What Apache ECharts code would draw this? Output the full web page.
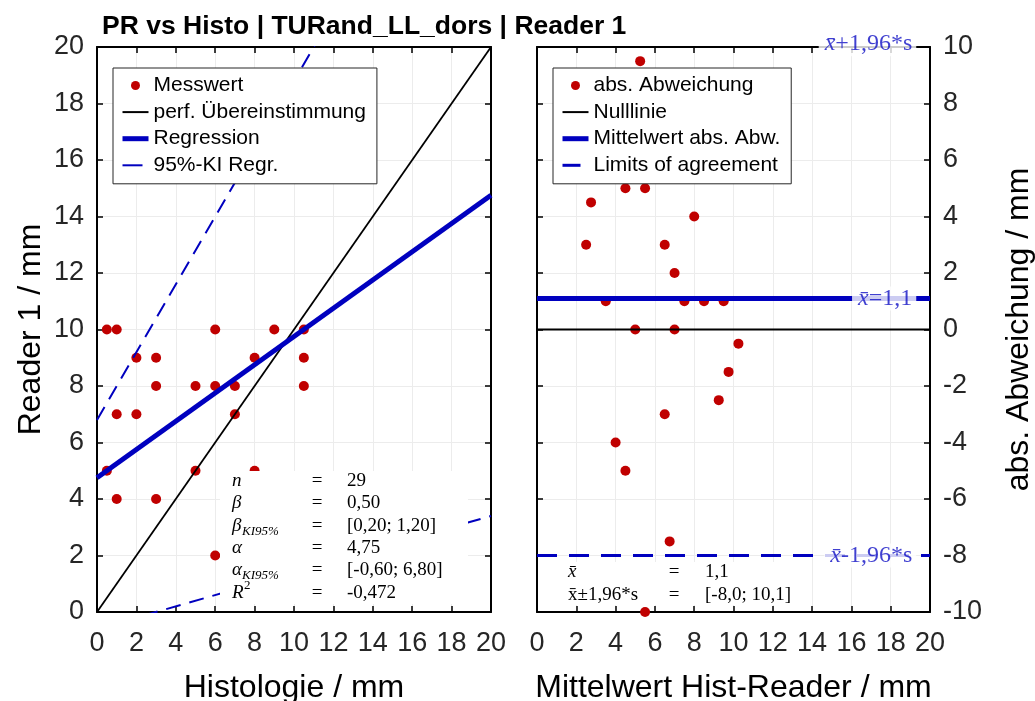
<!DOCTYPE html>
<html>
<head>
<meta charset="utf-8">
<script src="https://cdn.jsdelivr.net/npm/echarts@6/dist/echarts.min.js"></script>
<style>
html,body{margin:0;padding:0;background:#fff;}
#chart{width:1035px;height:701px;}
</style>
</head>
<body>
<div id="chart"></div>
<script>
// ---------- data ----------
const titleText = 'PR vs Histo | TURand_LL_dors | Reader 1';

// Left panel: Histologie (x) vs Reader 1 (y)
const histoX  = [0.5, 1, 6, 9, 10.5,  2, 3, 8, 10.5,  3, 5, 6, 7, 10.5,  1, 2, 7,  0.5, 5, 8,  1, 3,  6,  7, 10.5, 10.5];
const readerY = [10, 10, 10, 10, 10,   9, 9, 9, 9,     8, 8, 8, 8, 8,     7, 7, 7,  5, 5, 5,    4, 4,  2,  2, 3,    0.5];

const identLine = [[0, 0], [20, 20]];
const regLine   = [[0, 4.75], [20, 14.75]];
const ciUpper   = [[0, 6.8], [20, 30.8]];
const ciLower   = [[0, -0.6], [20, 3.4]];

// Right panel: mean (x) vs difference (y)
const meanX = [5.25, 4.5, 5.5, 2.75, 8, 2.5, 6.5, 7, 3.5, 7.5, 8.5, 9.5, 5, 7, 10.25, 9.75, 9.25, 6.5, 4, 4.5, 6.75, 5.5, 5.5, 5.5, 6, 4];
const diffY = [9.5, 5, 5, 4.5, 4, 3, 3, 2, 1, 1, 1, 1, 0, 0, -0.5, -1.5, -2.5, -3, -4, -5, -7.5, -10, 9, 7, 6, 6];

const zeroLine  = [[0, 0], [20, 0]];
const meanLine  = [[0, 1.1], [20, 1.1]];
const loaLower  = [[0, -8.0], [20, -8.0]];
const loaUpperValue = 10.1; // above the axis range, only its label is visible

const xTicks = [0, 2, 4, 6, 8, 10, 12, 14, 16, 18, 20];
const yTicksLeft = [0, 2, 4, 6, 8, 10, 12, 14, 16, 18, 20];
const yTicksRight = [-10, -8, -6, -4, -2, 0, 2, 4, 6, 8, 10];

const statsLeft = [
  ['n', '', '29'],
  ['β', '', '0,50'],
  ['β', 'KI95%', '[0,20; 1,20]'],
  ['α', '', '4,75'],
  ['α', 'KI95%', '[-0,60; 6,80]'],
  ['R', '2', '-0,472']
];
const statsRight = [
  ['x\u0304', '', '1,1'],
  ['x\u0304±1,96*s', '', '[-8,0; 10,1]']
];

// ---------- styling ----------
const RED = '#C00000';
const BLUE = '#0000BF';
const LBLUE = '#1010C4';
const SANS = 'Liberation Sans, Arial, sans-serif';
const SERIF = 'Liberation Serif, Times New Roman, serif';
const TXT = '#262626';

function pairs(xs, ys) { return xs.map((x, i) => [x, ys[i]]); }

function mainX(grid, name, ticks) {
  return {
    type: 'value', gridIndex: grid, position: 'bottom',
    min: ticks[0], max: ticks[ticks.length - 1], interval: ticks[1] - ticks[0],
    axisLine: { show: true, onZero: false, lineStyle: { color: '#000', width: 2 } },
    axisTick: { show: true, inside: true, length: 6, lineStyle: { color: '#000', width: 1.5 } },
    axisLabel: { fontSize: 27, color: TXT, fontFamily: SANS, margin: 18 },
    splitLine: { show: true, lineStyle: { color: '#ececec', width: 1 } },
    name: name, nameLocation: 'middle', nameGap: 60,
    nameTextStyle: { fontSize: 32, color: '#000', fontFamily: SANS }
  };
}
function boxX(grid, ticks) {
  return {
    type: 'value', gridIndex: grid, position: 'top',
    min: ticks[0], max: ticks[ticks.length - 1], interval: ticks[1] - ticks[0],
    axisLine: { show: true, onZero: false, lineStyle: { color: '#000', width: 2 } },
    axisTick: { show: true, inside: true, length: 6, lineStyle: { color: '#000', width: 1.5 } },
    axisLabel: { show: false }, splitLine: { show: false }
  };
}
function mainY(grid, pos, name, ticks, gap) {
  return {
    type: 'value', gridIndex: grid, position: pos,
    min: ticks[0], max: ticks[ticks.length - 1], interval: ticks[1] - ticks[0],
    axisLine: { show: true, onZero: false, lineStyle: { color: '#000', width: 2 } },
    axisTick: { show: true, inside: true, length: 6, lineStyle: { color: '#000', width: 1.5 } },
    axisLabel: { fontSize: 27, color: TXT, fontFamily: SANS, margin: 13 },
    splitLine: { show: true, lineStyle: { color: '#ececec', width: 1 } },
    name: name, nameLocation: 'middle', nameGap: gap, nameRotate: 90,
    nameTextStyle: { fontSize: 32, color: '#000', fontFamily: SANS }
  };
}
function boxY(grid, pos, ticks) {
  return {
    type: 'value', gridIndex: grid, position: pos,
    min: ticks[0], max: ticks[ticks.length - 1], interval: ticks[1] - ticks[0],
    axisLine: { show: true, onZero: false, lineStyle: { color: '#000', width: 2 } },
    axisTick: { show: true, inside: true, length: 6, lineStyle: { color: '#000', width: 1.5 } },
    axisLabel: { show: false }, splitLine: { show: false }
  };
}
function lineSeries(name, data, xi, yi, color, width, type, z) {
  return {
    type: 'line', name: name, data: data, xAxisIndex: xi, yAxisIndex: yi,
    symbol: 'none', showSymbol: false, clip: true, z: z || 3,
    lineStyle: { color: color, width: width, type: type || 'solid', cap: 'butt' },
    itemStyle: { color: color },
    emphasis: { disabled: true }, silent: true
  };
}
function lineLegendItem(name, color, width, type) {
  return { name: name, itemStyle: { opacity: 0 }, lineStyle: { color: color, width: width, type: type || 'solid', cap: 'butt' } };
}
function legendCfg(left, items) {
  return {
    orient: 'vertical', left: left, top: 68,
    data: items, backgroundColor: '#fff', borderColor: '#262626', borderWidth: 1,
    padding: [7, 11, 8, 7], itemGap: 5.6, itemWidth: 26, itemHeight: 9,
    textStyle: { fontSize: 21, color: '#000', fontFamily: SANS },
    selectedMode: false, z: 20
  };
}

// stats box graphic builders
function statsBox(x0, y0, w, h, rows, colEq, colVal, rowY) {
  const children = [{ type: 'rect', shape: { x: x0, y: y0, width: w, height: h }, style: { fill: '#fff' }, z: 30 }];
  rows.forEach((r, i) => {
    const y = rowY[i];
    const sym = r[0];
    children.push({ type: 'text', x: x0 + 12, y: y, z: 31,
      style: { text: sym, fontSize: 19, fontFamily: SERIF, fontStyle: (sym.length === 1 || sym === 'x\u0304') ? 'italic' : 'normal', fill: '#000', verticalAlign: 'middle' } });
    if (r[1]) {
      const isSup = r[1] === '2';
      children.push({ type: 'text', x: x0 + 12 + (sym === 'R' ? 12 : 10), y: isSup ? y - 7 : y + 6, z: 31,
        style: { text: r[1], fontSize: 13, fontFamily: SERIF, fontStyle: isSup ? 'normal' : 'italic', fill: '#000', verticalAlign: 'middle' } });
    }
    children.push({ type: 'text', x: colEq, y: y, z: 31,
      style: { text: '=', fontSize: 19, fontFamily: SERIF, fill: '#000', align: 'center', verticalAlign: 'middle' } });
    children.push({ type: 'text', x: colVal, y: y, z: 31,
      style: { text: r[2], fontSize: 19, fontFamily: SERIF, fill: '#000', verticalAlign: 'middle' } });
  });
  return { type: 'group', children: children, z: 30 };
}

// right-panel limit labels
const refLabels = [
  { value: [19.3, loaUpperValue], label: { formatter: '{i|x\u0304}+1,96*s' } },
  { value: [19.3, meanLine[0][1]], label: { formatter: '{i|x\u0304}=1,1' } },
  { value: [19.3, loaLower[0][1]], label: { formatter: '{i|x\u0304}-1,96*s' } }
];

const chart = echarts.init(document.getElementById('chart'), null, { renderer: 'canvas' });
chart.setOption({
  animation: false,
  backgroundColor: '#fff',
  title: { text: titleText, left: 97, top: 8,
    textStyle: { fontSize: 26.5, fontWeight: 'bold', fontFamily: SANS, color: '#000' } },
  grid: [
    { left: 97, top: 47, width: 394, height: 565, containLabel: false, outerBoundsMode: 'none' },
    { left: 537, top: 47, width: 393, height: 565, containLabel: false, outerBoundsMode: 'none' }
  ],
  xAxis: [
    mainX(0, 'Histologie / mm', xTicks), boxX(0, xTicks),
    mainX(1, 'Mittelwert Hist-Reader / mm', xTicks), boxX(1, xTicks)
  ],
  yAxis: [
    mainY(0, 'left', 'Reader 1 / mm', yTicksLeft, 50), boxY(0, 'right', yTicksLeft),
    mainY(1, 'right', 'abs. Abweichung / mm', yTicksRight, 73), boxY(1, 'left', yTicksRight)
  ],
  legend: [
    legendCfg(113, [
      { name: 'Messwert' },
      lineLegendItem('perf. Übereinstimmung', '#000', 2),
      lineLegendItem('Regression', BLUE, 5),
      lineLegendItem('95%-KI Regr.', BLUE, 2, [20, 10])
    ]),
    legendCfg(553, [
      { name: 'abs. Abweichung' },
      lineLegendItem('Nulllinie', '#000', 2),
      lineLegendItem('Mittelwert abs. Abw.', BLUE, 5),
      lineLegendItem('Limits of agreement', BLUE, 3, [18, 12])
    ])
  ],
  series: [
    { type: 'scatter', name: 'Messwert', data: pairs(histoX, readerY), xAxisIndex: 0, yAxisIndex: 0,
      symbol: 'circle', symbolSize: 10, itemStyle: { color: RED, opacity: 1 }, z: 2, silent: true },
    lineSeries('perf. Übereinstimmung', identLine, 0, 0, '#000', 1.8, 'solid', 3),
    lineSeries('Regression', regLine, 0, 0, BLUE, 5, 'solid', 4),
    lineSeries('95%-KI Regr.', ciUpper, 0, 0, BLUE, 2, [15, 9], 3),
    lineSeries('95%-KI Regr.', ciLower, 0, 0, BLUE, 2, [15, 9], 3),

    { type: 'scatter', name: 'abs. Abweichung', data: pairs(meanX, diffY), xAxisIndex: 2, yAxisIndex: 2,
      symbol: 'circle', symbolSize: 10, itemStyle: { color: RED, opacity: 1 }, z: 2, silent: true },
    lineSeries('Nulllinie', zeroLine, 2, 2, '#000', 2, 'solid', 3),
    lineSeries('Mittelwert abs. Abw.', meanLine, 2, 2, BLUE, 5, 'solid', 4),
    lineSeries('Limits of agreement', loaLower, 2, 2, BLUE, 3, [20, 12], 3),
    { type: 'scatter', name: 'refLabels', data: refLabels, xAxisIndex: 2, yAxisIndex: 2,
      symbolSize: 0, clip: false, z: 10, silent: true,
      label: { show: true, position: 'left', distance: 0, color: LBLUE, fontSize: 24,
        fontFamily: SERIF, backgroundColor: '#fff', padding: [0, 4, 0, 6],
        rich: { i: { fontStyle: 'italic', fontSize: 24, fontFamily: SERIF, color: LBLUE } } } }
  ],
  graphic: [
    statsBox(220, 471, 248, 133, statsLeft, 317, 347, [481, 503, 526, 548, 570, 593]),
    statsBox(556, 562, 239, 43, statsRight, 674, 705, [572, 595])
  ]
});
</script>
</body>
</html>
